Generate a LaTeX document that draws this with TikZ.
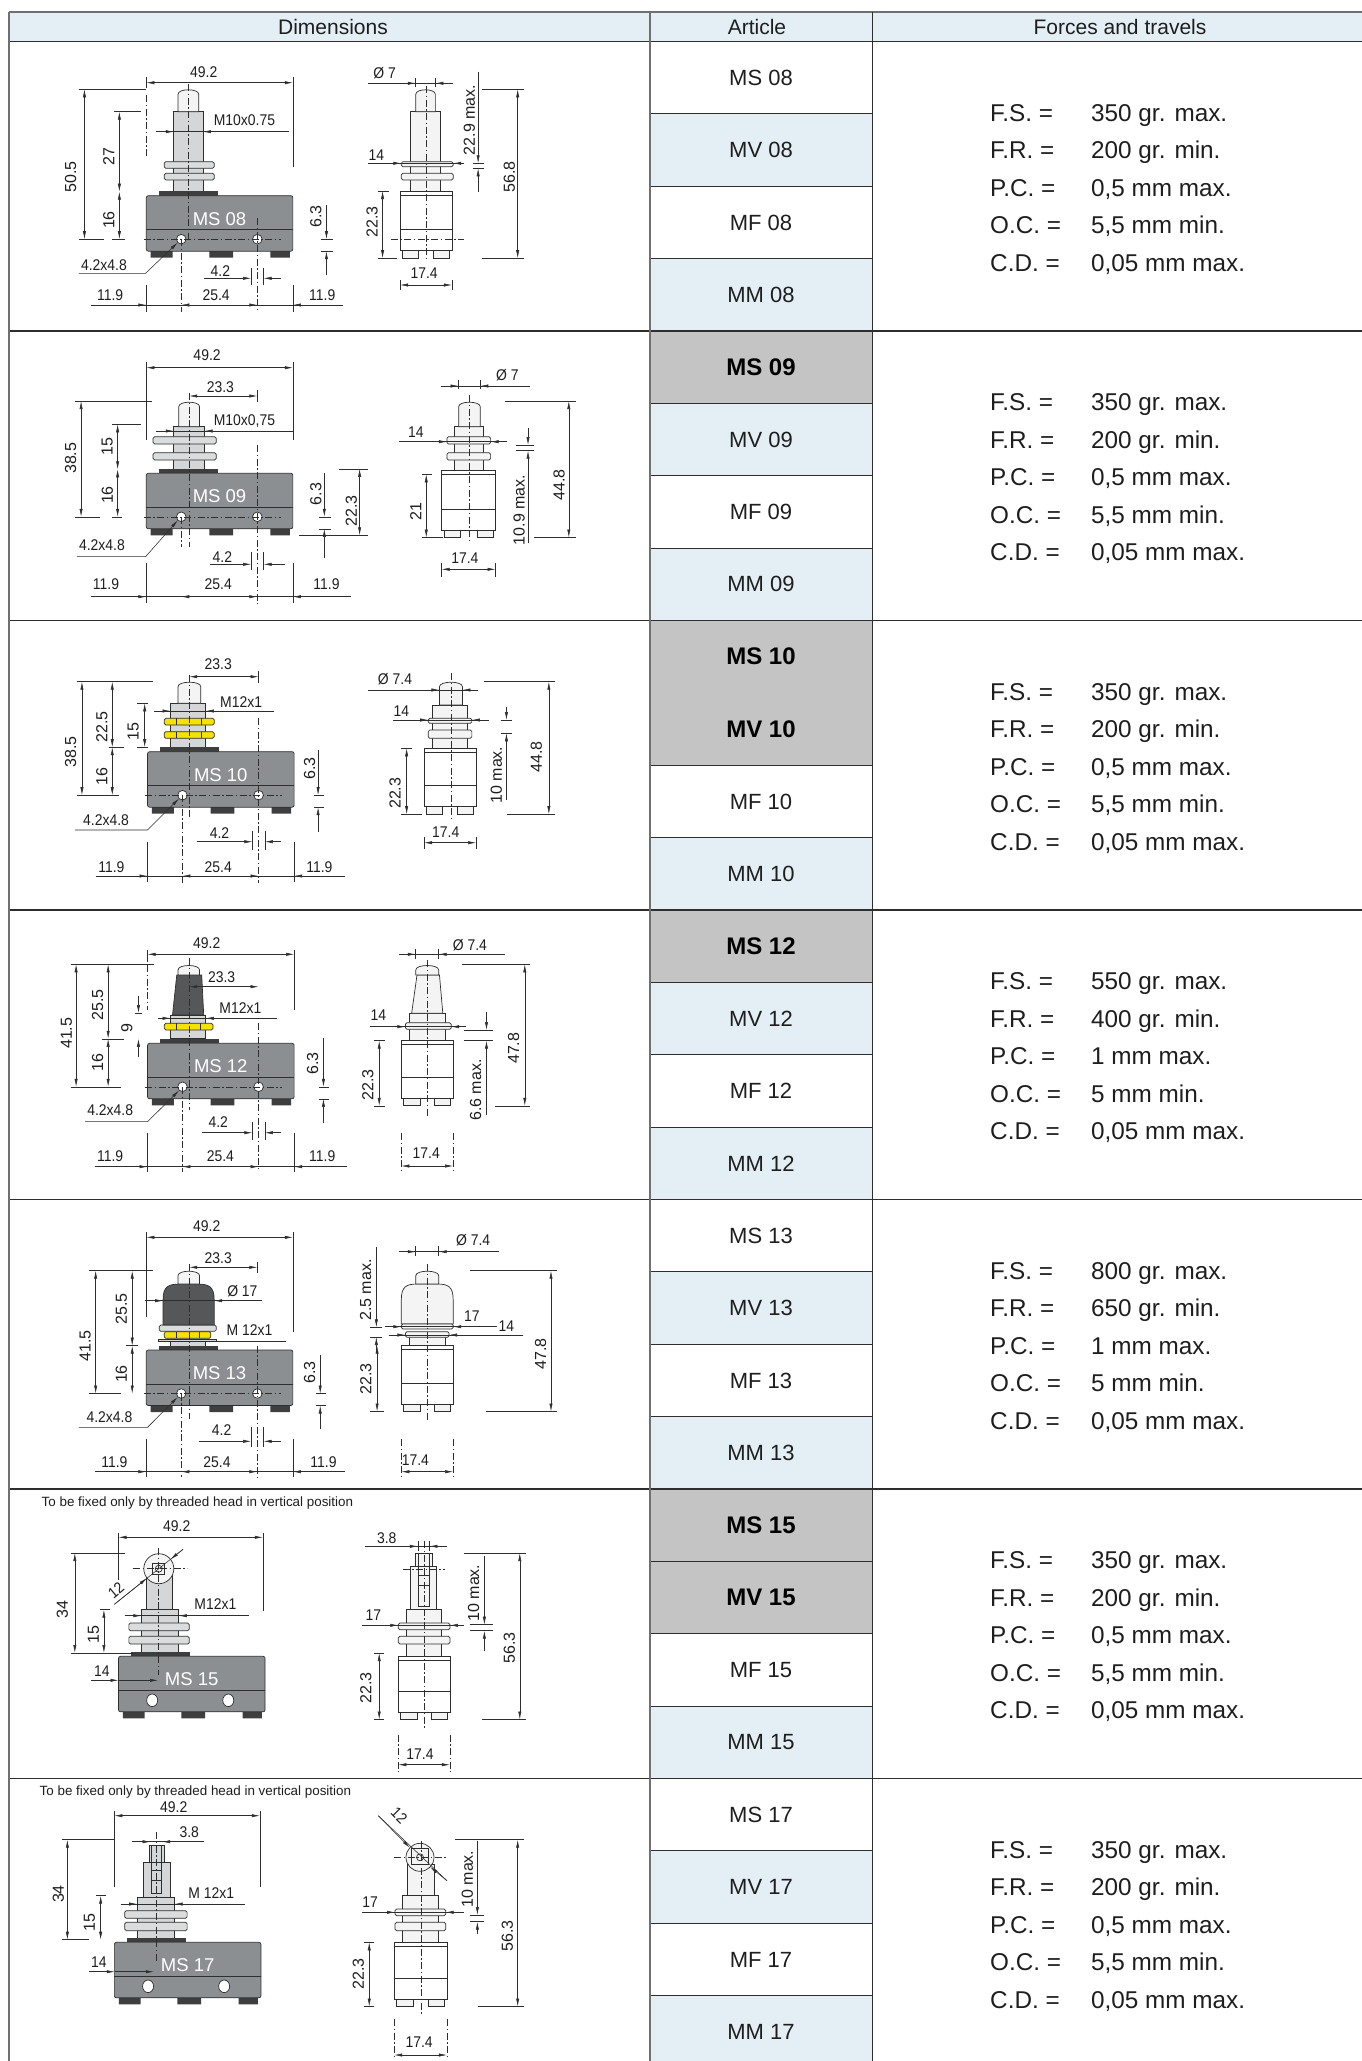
\documentclass[tikz,border=0pt]{standalone}
\usepackage{fontspec}
\setmainfont{Liberation Sans}
\newfontfamily\dimfont[FakeStretch=0.9]{Liberation Sans}
\newfontfamily\dimfontr{Liberation Sans}
\usetikzlibrary{arrows.meta}
\definecolor{hdrblue}{HTML}{E3EEF5}
\definecolor{cellgray}{HTML}{C4C4C4}
\definecolor{bodygray}{HTML}{8C8F92}
\definecolor{darkpart}{HTML}{3E3E3E}
\definecolor{stemgray}{HTML}{D4D6D8}
\definecolor{nutgray}{HTML}{DADCDE}
\definecolor{partlight}{HTML}{F4F4F4}
\definecolor{bootdark}{HTML}{555759}
\definecolor{nutyellow}{HTML}{F5E200}
\definecolor{linedark}{HTML}{2E2E2E}
\definecolor{txtdark}{HTML}{1E1E1E}
\definecolor{bordergray}{HTML}{707070}
\tikzset{
 rowline/.style={draw=linedark, line width=1.2pt},
 colline/.style={draw=bordergray, line width=1.1pt},
 subline/.style={draw=linedark, line width=0.9pt},
 dimline/.style={draw=linedark, line width=0.55pt},
 dimarrow/.style={dimline, -{Latex[length=8pt,width=3.2pt]}},
 dimboth/.style={dimline, {Latex[length=8pt,width=3.2pt]}-{Latex[length=8pt,width=3.2pt]}},
 cline/.style={draw=linedark, line width=0.5pt, dash pattern=on 7pt off 2.5pt on 1.5pt off 2.5pt},
 outl/.style={draw=linedark, line width=0.7pt},
 dimlbl/.style={font=\dimfont\fontsize{15.5}{15.5}\selectfont, text=txtdark, inner sep=0pt},
 dimlblr/.style={font=\dimfontr\fontsize{16}{16}\selectfont, text=txtdark, inner sep=0pt, rotate=90},
 bodylbl/.style={font=\fontsize{18.5}{18.5}\selectfont, text=white, inner sep=0pt},
 hdr/.style={font=\fontsize{21}{21}\selectfont, text=txtdark, inner sep=0pt},
 arttxt/.style={font=\fontsize{22}{22}\selectfont, text=txtdark, inner sep=0pt},
 artbold/.style={font=\bfseries\fontsize{24}{24}\selectfont, text=black, inner sep=0pt},
 ftxt/.style={font=\fontsize{24.3}{24.3}\selectfont, text=txtdark, inner sep=0pt, anchor=base west},
 note/.style={font=\fontsize{13.4}{13.4}\selectfont, text=txtdark, inner sep=0pt, anchor=base west}
}
\newcounter{nn}
\newcommand{\lab}[3]{\stepcounter{nn}\node[dimlbl] (d\arabic{nn}) at (#1,#2) {#3};}
\newcommand{\labr}[3]{\stepcounter{nn}\node[dimlblr] (d\arabic{nn}) at (#1,#2) {#3};}
\newcommand{\hd}[3]{\draw[dimboth] (#1,#3) -- (#2,#3);}
\newcommand{\vd}[3]{\draw[dimboth] (#1,#2) -- (#1,#3);}
\newcommand{\arw}[4]{\draw[dimarrow] (#1,#2) -- (#3,#4);}
\newcommand{\sg}[4]{\draw[dimline] (#1,#2) -- (#3,#4);}
\newcommand{\ctr}[3]{\draw[cline] (#1,#2) -- (#1,#3);}
\newcommand{\inh}[5]{\draw[dimline] (#1,#3) -- (#2,#3);
 \draw[dimarrow] (#4-9,#3) -- (#4,#3);
 \draw[dimarrow] (#5+9,#3) -- (#5,#3);}
\newcommand{\nut}[5]{\draw[outl, fill=#5, rounded corners=1.5pt] (#1,#2) rectangle (#3,#4);}
\newcommand{\ynut}[4]{\draw[outl, fill=nutyellow, rounded corners=1.5pt] (#1,#2) rectangle (#3,#4);
 \draw[outl] ({#1+(#3-#1)*0.25},#2) -- ({#1+(#3-#1)*0.25},#4) ({#1+(#3-#1)*0.75},#2) -- ({#1+(#3-#1)*0.75},#4);}
\newcommand{\plunger}[5]{\draw[outl, fill=#5] (#1,#4) -- (#1,#3+5) .. controls (#1,#3-1) and (#2,#3-1) .. (#2,#3+5) -- (#2,#4) -- cycle;}
\newcommand{\fbody}[5]{%
 \begin{scope}[shift={(#1,#2)}]
  \fill[darkpart] (3.5,55.5) rectangle (21,62) (50.5,55.5) rectangle (69.5,62) (99.5,55.5) rectangle (115,62);
  \fill[darkpart] (10,-4.5) rectangle (57.5,0);
  \draw[outl, fill=bodygray, rounded corners=2pt] (0,0) rectangle (117.5,55.5);
  \draw[outl] (0,34) -- (117.5,34);
  \ifnum#5=1
   \draw[outl, fill=white] (28,43.5) circle[radius=4.8pt] (89,43.5) circle[radius=4.8pt];
   \draw[cline] (-2,43.5) -- (108,43.5);
  \else
   \draw[outl, fill=white] (27,44) ellipse[x radius=5.5pt, y radius=6.3pt] (88,44) ellipse[x radius=5.5pt, y radius=6.3pt];
  \fi
  \node[bodylbl] (#4) at (58.7,23) {#3};
 \end{scope}}
\newcommand{\sbody}[4]{%
 \draw[outl, fill=partlight] (#1+2,#3) rectangle (#1+15,#3+7.5) (#1+#4-15,#3) rectangle (#1+#4-2,#3+7.5);
 \draw[outl, fill=white] (#1,#2) rectangle (#1+#4,#3);
 \draw[outl] (#1,#2+4) -- (#1+#4,#2+4) (#1,#3-21) -- (#1+#4,#3-21);}
\newcommand{\acell}[6]{\fill[#3] (650,#1+72.4*#2) rectangle (872.5,#1+72.4*#2+72.4);
 \node[#6] (#5) at (761,#1+72.4*#2+36.2) {#4};}
\newcommand{\frc}[7]{%
 \node[ftxt] (#2a) at (990,#1+79.5) {F.S. =}; \node[ftxt] (#2b) at (1091,#1+79.5) {#3};
 \node[ftxt] (#2c) at (990,#1+117) {F.R. =}; \node[ftxt] (#2d) at (1091,#1+117) {#4};
 \node[ftxt] (#2e) at (990,#1+154.5) {P.C. =}; \node[ftxt] (#2f) at (1091,#1+154.5) {#5};
 \node[ftxt] (#2g) at (990,#1+192) {O.C. =}; \node[ftxt] (#2h) at (1091,#1+192) {#6};
 \node[ftxt] (#2i) at (990,#1+229.5) {C.D. =}; \node[ftxt] (#2j) at (1091,#1+229.5) {#7};}
\begin{document}
\begin{tikzpicture}[x=1pt,y=-1pt]
\useasboundingbox (0,0) rectangle (1362,2061);
\clip (0,0) rectangle (1362,2061);
\fill[white] (0,0) rectangle (1362,2061);
% ---------- table ----------
\fill[hdrblue] (9,12) rectangle (1362,41.5);
\acell{41.5}{0}{white}{MS 08}{a11}{arttxt}
\acell{41.5}{1}{hdrblue}{MV 08}{a12}{arttxt}
\acell{41.5}{2}{white}{MF 08}{a13}{arttxt}
\acell{41.5}{3}{hdrblue}{MM 08}{a14}{arttxt}
\acell{331}{0}{cellgray}{MS 09}{a21}{artbold}
\acell{331}{1}{hdrblue}{MV 09}{a22}{arttxt}
\acell{331}{2}{white}{MF 09}{a23}{arttxt}
\acell{331}{3}{hdrblue}{MM 09}{a24}{arttxt}
\acell{620.5}{0}{cellgray}{MS 10}{a31}{artbold}
\acell{620.5}{1}{cellgray}{MV 10}{a32}{artbold}
\acell{620.5}{2}{white}{MF 10}{a33}{arttxt}
\acell{620.5}{3}{hdrblue}{MM 10}{a34}{arttxt}
\acell{910}{0}{cellgray}{MS 12}{a41}{artbold}
\acell{910}{1}{hdrblue}{MV 12}{a42}{arttxt}
\acell{910}{2}{white}{MF 12}{a43}{arttxt}
\acell{910}{3}{hdrblue}{MM 12}{a44}{arttxt}
\acell{1199.5}{0}{white}{MS 13}{a51}{arttxt}
\acell{1199.5}{1}{hdrblue}{MV 13}{a52}{arttxt}
\acell{1199.5}{2}{white}{MF 13}{a53}{arttxt}
\acell{1199.5}{3}{hdrblue}{MM 13}{a54}{arttxt}
\acell{1489}{0}{cellgray}{MS 15}{a61}{artbold}
\acell{1489}{1}{cellgray}{MV 15}{a62}{artbold}
\acell{1489}{2}{white}{MF 15}{a63}{arttxt}
\acell{1489}{3}{hdrblue}{MM 15}{a64}{arttxt}
\acell{1778.5}{0}{white}{MS 17}{a71}{arttxt}
\acell{1778.5}{1}{hdrblue}{MV 17}{a72}{arttxt}
\acell{1778.5}{2}{white}{MF 17}{a73}{arttxt}
\acell{1778.5}{3}{hdrblue}{MM 17}{a74}{arttxt}
\foreach \r in {41.5,331,910,1199.5,1489,1778.5}{
 \draw[subline] (650,\r+72.4) -- (872.5,\r+72.4);}
\foreach \r in {41.5,331,620.5,910,1199.5,1489,1778.5}{
 \draw[subline] (650,\r+144.8) -- (872.5,\r+144.8);
 \draw[subline] (650,\r+217.2) -- (872.5,\r+217.2);}
\draw[draw=bordergray, line width=1.4pt] (9,12) -- (1362,12);
\foreach \r in {41.5,331,620.5,910,1199.5,1489,1778.5}{
 \draw[rowline] (9,\r) -- (1362,\r);}
\draw[colline] (9,12) -- (9,2061);
\draw[colline] (650,12) -- (650,2061);
\draw[rowline] (872.5,12) -- (872.5,2061);
\node[hdr] (hDim) at (333,27) {Dimensions};
\node[hdr] (hArt) at (757,27) {Article};
\node[hdr] (hFor) at (1120,27) {Forces and travels};
\frc{41.5}{fa}{350 gr. max.}{200 gr. min.}{0,5 mm max.}{5,5 mm min.}{0,05 mm max.}
\frc{331}{fb}{350 gr. max.}{200 gr. min.}{0,5 mm max.}{5,5 mm min.}{0,05 mm max.}
\frc{620.5}{fc}{350 gr. max.}{200 gr. min.}{0,5 mm max.}{5,5 mm min.}{0,05 mm max.}
\frc{910}{fd}{550 gr. max.}{400 gr. min.}{1 mm max.}{5 mm min.}{0,05 mm max.}
\frc{1199.5}{fe}{800 gr. max.}{650 gr. min.}{1 mm max.}{5 mm min.}{0,05 mm max.}
\frc{1489}{ff}{350 gr. max.}{200 gr. min.}{0,5 mm max.}{5,5 mm min.}{0,05 mm max.}
\frc{1778.5}{fg}{350 gr. max.}{200 gr. min.}{0,5 mm max.}{5,5 mm min.}{0,05 mm max.}
% ---------- drawings ----------
\begin{scope}[x={(1.2474pt,0pt)},y={(0pt,-1pt)}]
% ===== ROW 1 front =====
\draw[outl, fill=stemgray] (139.3,111.7) rectangle (162.7,191.2);
\plunger{142.7}{159.3}{89.3}{111.7}{partlight}
\nut{131.7}{161.7}{171.7}{168.3}{nutgray}
\nut{131.7}{173.3}{171.7}{180}{nutgray}
\fbody{117.3}{195.7}{MS 08}{b1}{1}
\ctr{151}{84}{240}
\draw[cline] (145.3,239)--(145.3,311.7) (206.3,218)--(206.3,311.7);
\hd{117.3}{234.8}{82.7} \lab{163.3}{71.7}{49.2}
\sg{117.3}{77}{117.3}{88} \draw[cline] (117.3,95)--(117.3,157);
\sg{234.8}{77}{234.8}{167}
\vd{67.7}{89.3}{239.2} \labr{56.7}{176.7}{50.5}
\sg{63.3}{89.3}{116.7}{89.3} \sg{63.3}{239.2}{83.3}{239.2}
\vd{95.7}{111.7}{191.7} \labr{87.3}{156.7}{27}
\vd{95.7}{191.7}{239.2} \labr{87.3}{220}{16}
\sg{91.7}{111.7}{113.3}{111.7} \sg{90}{239.2}{100}{239.2}
\inh{125}{231.7}{131.7}{139.3}{162.7} \lab{196}{120}{M10x0.75}
\arw{261.7}{205}{261.7}{239.2} \arw{261.7}{275}{261.7}{251.2}
\sg{257}{239.2}{267}{239.2} \sg{257}{251.2}{267}{251.2} \labr{253.3}{216.7}{6.3}
\draw[dimarrow] (63.3,273.3)--(116.7,273.3)--(142.5,242.5); \lab{83.3}{265}{4.2x4.8}
\arw{163.3}{278.3}{201.3}{278.3} \arw{225}{278.3}{211.3}{278.3}
\sg{201.3}{268.3}{201.3}{285} \sg{211.3}{268.3}{211.3}{285} \lab{176.7}{270.7}{4.2}
\sg{73.3}{305}{275}{305}
\arw{107}{305}{117.3}{305} \arw{155.5}{305}{145.3}{305} \arw{196}{305}{206.3}{305} \arw{245}{305}{234.8}{305}
\lab{88.3}{295}{11.9} \lab{173.3}{295}{25.4} \lab{258.3}{295}{11.9}
\sg{117.3}{285}{117.3}{311.7} \sg{234.8}{285}{234.8}{311.7}
% ROW 1 side
\draw[outl, fill=partlight] (329.3,111.7) rectangle (352.7,191);
\plunger{333.3}{349}{89.3}{111.7}{partlight}
\nut{321.7}{161.7}{363.3}{166.7}{partlight}
\nut{321.7}{173.3}{363.3}{180}{partlight}
\sbody{320.7}{191}{250.7}{41.6}
\ctr{341.7}{86}{258}
\draw[cline] (313.3,239.2)--(371.7,239.2);
\inh{295}{363.3}{83.3}{333.3}{349} \sg{333.3}{78}{333.3}{87} \sg{349}{78}{349}{87} \lab{308.3}{73.3}{Ø 7}
\inh{295}{368.3}{163.3}{321.7}{363.3} \lab{301.7}{155}{14}
\arw{383.3}{71.7}{383.3}{163.3} \arw{383.3}{191.7}{383.3}{168.3}
\sg{379.3}{163.3}{388.3}{163.3} \sg{379.3}{168.3}{388.3}{168.3} \labr{376.2}{120}{22.9 max.}
\vd{415}{89.3}{258.2} \sg{386.7}{89.3}{420}{89.3} \sg{386.7}{258.2}{420}{258.2} \labr{408.3}{176.7}{56.8}
\vd{306.7}{191}{258.2} \sg{302.7}{191}{311.7}{191} \sg{302.7}{258.2}{318}{258.2} \labr{298.3}{221.7}{22.3}
\hd{320.7}{362.3}{285} \sg{320.7}{280}{320.7}{290} \sg{362.3}{280}{362.3}{290} \lab{340}{273.3}{17.4}
% ===== ROW 2 front =====
\draw[outl, fill=stemgray] (139.3,426.7) rectangle (164,469);
\plunger{143.3}{160}{401.7}{426.7}{partlight}
\nut{122.7}{436.7}{173.3}{444}{nutgray}
\nut{122.7}{452.7}{173.3}{460}{nutgray}
\fbody{117.3}{473.3}{MS 09}{b2}{1}
\ctr{151.7}{393}{546.7}
\draw[cline] (145.3,517)--(145.3,546.7) (206.3,445)--(206.3,603.3);
\hd{117.3}{234.8}{367.7} \lab{166}{355}{49.2}
\sg{117.3}{361.7}{117.3}{440} \sg{234.8}{361.7}{234.8}{440}
\hd{151.7}{206.3}{396} \sg{206.3}{390}{206.3}{402} \lab{176.7}{386.7}{23.3}
\inh{125}{235}{431}{139.3}{164} \lab{196}{420.7}{M10x0,75}
\vd{65}{401}{516.8} \labr{56.7}{458.3}{38.5} \sg{60}{401}{121.7}{401} \sg{60}{516.8}{80}{516.8}
\vd{94.3}{424.3}{469.3} \labr{86}{446.7}{15} \sg{90}{424.3}{113.3}{424.3}
\vd{94.3}{469.3}{516.8} \labr{86}{495}{16} \sg{90}{516.8}{98}{516.8}
\arw{260}{473.3}{260}{516.8} \arw{260}{558.3}{260}{528.8}
\sg{256}{516.8}{265}{516.8} \sg{256}{528.8}{265}{528.8} \labr{253.3}{494}{6.3}
\vd{288.3}{468.8}{535.3} \sg{271.7}{468.8}{295}{468.8} \sg{240}{535.3}{295}{535.3} \labr{281.7}{511}{22.3}
\draw[dimarrow] (61.7,556.7)--(116.7,556.7)--(142.5,520.3); \lab{81.7}{545}{4.2x4.8}
\arw{168.3}{564.3}{201.3}{564.3} \arw{228.3}{564.3}{211.3}{564.3}
\sg{201.3}{552}{201.3}{570} \sg{211.3}{552}{211.3}{570} \lab{178.3}{556.7}{4.2}
\sg{73.3}{596.7}{281.7}{596.7}
\arw{107}{596.7}{117.3}{596.7} \arw{155.5}{596.7}{145.3}{596.7} \arw{196}{596.7}{206.3}{596.7} \arw{245}{596.7}{234.8}{596.7}
\lab{85}{584}{11.9} \lab{175}{584}{25.4} \lab{261.7}{584}{11.9}
\sg{117.3}{563.3}{117.3}{603.3} \sg{234.8}{563.3}{234.8}{603.3}
% ROW 2 side
\draw[outl, fill=partlight] (364.3,426.7) rectangle (387.7,470);
\plunger{367.7}{385}{401.7}{426.7}{partlight}
\nut{358.3}{436.7}{393.3}{444}{partlight}
\nut{358.3}{452.7}{393.3}{460}{partlight}
\sbody{354}{470}{530}{43.3}
\ctr{376}{395}{543.3}
\inh{353.3}{425}{386}{367.7}{385} \sg{367.7}{380}{367.7}{389} \sg{385}{380}{385}{389} \lab{406.7}{375}{Ø 7}
\inh{320}{406.7}{441.7}{358.3}{393.3} \lab{333.3}{431.7}{14}
\arw{423.3}{428.3}{423.3}{445} \arw{423.3}{543.3}{423.3}{450.7}
\sg{413.3}{445}{428.3}{445} \sg{413.3}{450.7}{428.3}{450.7} \labr{416.2}{510}{10.9 max.}
\vd{456}{401}{537.5} \sg{405}{401}{461.7}{401} \sg{428.3}{537.5}{461.7}{537.5} \labr{448.3}{485}{44.8}
\vd{341.7}{474.3}{537.5} \sg{338.3}{474.3}{346.7}{474.3} \sg{338.3}{537.5}{355}{537.5} \labr{333.3}{511.7}{21}
\hd{354}{397.3}{569.3} \sg{354}{563.3}{354}{576.7} \sg{397.3}{563.3}{397.3}{576.7} \lab{372.7}{558.3}{17.4}
% ===== ROW 3 front =====
\draw[outl, fill=stemgray] (136.7,703.3) rectangle (165,747.2);
\plunger{142.7}{161}{681.7}{703.3}{partlight}
\ynut{131.7}{718.3}{171.7}{725}
\ynut{131.7}{731.7}{171.7}{738.3}
\fbody{118.3}{751.7}{MS 10}{b3}{1}
\ctr{151.7}{675}{818.3}
\draw[cline] (146.3,795)--(146.3,883.3) (207.3,718.3)--(207.3,883.3);
\hd{151.7}{207.3}{676.7} \sg{207.3}{671}{207.3}{683} \lab{175}{664}{23.3}
\inh{123.3}{220}{711}{136.7}{165} \lab{193.3}{701.7}{M12x1}
\vd{65.7}{681.7}{795.2} \sg{61.7}{681.7}{122.7}{681.7} \sg{61.7}{795.2}{95}{795.2} \labr{56.7}{751.7}{38.5}
\vd{90}{681.7}{747.2} \labr{81.7}{726.7}{22.5}
\vd{90}{747.2}{795.2} \labr{81.7}{776.7}{16} \sg{87}{747.2}{99.3}{747.2}
\vd{116}{703.3}{747.2} \sg{110}{703.3}{118.3}{703.3} \sg{110}{747.2}{118.3}{747.2} \labr{106.7}{731.7}{15}
\arw{255}{750}{255}{795.2} \arw{255}{831.7}{255}{807.2}
\sg{252}{795.2}{260}{795.2} \sg{252}{807.2}{260}{807.2} \labr{248.3}{768.3}{6.3}
\draw[dimarrow] (60,830)--(118.3,830)--(143.5,798.5); \lab{85}{820}{4.2x4.8}
\arw{158.3}{841.7}{202.3}{841.7} \arw{225}{841.7}{212.3}{841.7}
\sg{202.3}{830.7}{202.3}{850} \sg{212.3}{830.7}{212.3}{850} \lab{176}{832.7}{4.2}
\sg{76.7}{876}{276.7}{876}
\arw{108}{876}{118.3}{876} \arw{156.5}{876}{146.3}{876} \arw{197}{876}{207.3}{876} \arw{246}{876}{235.8}{876}
\lab{89.3}{866.7}{11.9} \lab{175}{866.7}{25.4} \lab{256}{866.7}{11.9}
\sg{118.3}{841.7}{118.3}{881.7} \sg{235.8}{841.7}{235.8}{881.7}
% ROW 3 side
\draw[outl, fill=partlight] (346.7,705) rectangle (375,748.3);
\plunger{352.3}{370.7}{681.7}{705}{partlight}
\nut{343.3}{718.3}{378.3}{723.3}{partlight}
\nut{343.3}{730}{378.3}{738.3}{partlight}
\sbody{340}{748.3}{806.7}{41.7}
\ctr{361.7}{673.3}{820}
\inh{295}{383.3}{690}{352.3}{370.7} \lab{316.7}{679.3}{Ø 7.4}
\inh{315}{391.7}{720}{343.3}{378.3} \lab{321.7}{710.7}{14}
\arw{406}{706.7}{406}{720} \arw{406}{800}{406}{733.3}
\sg{401.7}{720}{410.7}{720} \sg{401.7}{733.3}{410.7}{733.3} \labr{398}{775}{10 max.}
\vd{440}{681.7}{814.2} \sg{388.3}{681.7}{445}{681.7} \sg{406.7}{814.2}{445}{814.2} \labr{430}{756.7}{44.8}
\vd{326}{748.3}{814.2} \sg{321.7}{748.3}{330}{748.3} \sg{321.7}{814.2}{338.3}{814.2} \labr{316.7}{793.3}{22.3}
\hd{340}{381.7}{842.7} \sg{340}{837}{340}{849} \sg{381.7}{837}{381.7}{849} \lab{357.3}{831.7}{17.4}
% ===== ROW 4 front =====
\draw[outl, fill=stemgray] (136.7,1015) rectangle (165,1038.8);
\draw[outl, fill=bootdark] (138.3,1015) -- (141.7,975) -- (161.7,975) -- (163.3,1015) -- cycle;
\plunger{142.7}{160}{965}{975}{partlight}
\ynut{131.7}{1023.3}{170.7}{1030}
\fbody{118.3}{1043.3}{MS 12}{b4}{1}
\ctr{151.7}{958.3}{1110}
\draw[cline] (146.3,1087)--(146.3,1171.7) (207.3,1023.3)--(207.3,1171.7);
\hd{118.3}{235.8}{954.3} \lab{165.7}{943.3}{49.2}
\sg{118.3}{950}{118.3}{962} \draw[cline] (118.3,965)--(118.3,1010); \sg{235.8}{950}{235.8}{1010}
\hd{151.7}{207.3}{986.7} \lab{177.7}{976.7}{23.3}
\inh{126.7}{221.7}{1018.3}{136.7}{165} \lab{192.7}{1008.3}{M12x1}
\vd{61}{964.3}{1086.8} \sg{56.7}{964.3}{123.3}{964.3} \sg{56.7}{1086.8}{96.7}{1086.8} \labr{53.3}{1033.3}{41.5}
\vd{86.7}{964.3}{1038.8} \labr{78.3}{1005}{25.5}
\vd{86.7}{1038.8}{1086.8} \labr{78.3}{1062.7}{16} \sg{81.7}{1038.8}{99.3}{1038.8}
\arw{111}{996}{111}{1013} \arw{111}{1056.7}{111}{1038.8} \sg{108}{1013}{114}{1013} \labr{101.7}{1028.3}{9}
\arw{259.3}{1038.3}{259.3}{1086.8} \arw{259.3}{1123.3}{259.3}{1098.8}
\sg{256}{1086.8}{264}{1086.8} \sg{256}{1098.8}{264}{1098.8} \labr{250.7}{1063.3}{6.3}
\draw[dimarrow] (68.3,1121.7)--(118.3,1121.7)--(143.5,1090.5); \lab{88.3}{1110}{4.2x4.8}
\arw{161.7}{1132.7}{202.3}{1132.7} \arw{225}{1132.7}{212.3}{1132.7}
\sg{202.3}{1121.7}{202.3}{1140} \sg{212.3}{1121.7}{212.3}{1140} \lab{175}{1121.7}{4.2}
\sg{76}{1166.7}{278.3}{1166.7}
\arw{108}{1166.7}{118.3}{1166.7} \arw{156.5}{1166.7}{146.3}{1166.7} \arw{197}{1166.7}{207.3}{1166.7} \arw{246}{1166.7}{235.8}{1166.7}
\lab{88.3}{1156}{11.9} \lab{176.7}{1156}{25.4} \lab{258.3}{1156}{11.9}
\sg{118.3}{1133.3}{118.3}{1171.7} \sg{235.8}{1133.3}{235.8}{1171.7}
% ROW 4 side
\draw[outl, fill=partlight] (328.3,1013.3) rectangle (356.7,1040.7);
\draw[outl, fill=partlight] (330,1013.3) -- (334.3,975) -- (352.3,975) -- (355,1013.3) -- cycle;
\plunger{333.3}{351.7}{965}{975}{partlight}
\nut{325}{1022.7}{361.7}{1029.3}{partlight}
\sbody{321.7}{1040.7}{1098.3}{41.6}
\ctr{342.7}{960}{1116.7}
\inh{320}{405}{954.3}{333.3}{351.7} \sg{333.3}{949}{333.3}{959} \sg{351.7}{949}{351.7}{959} \lab{376.7}{945}{Ø 7.4}
\inh{296.7}{373.3}{1026.7}{325}{361.7} \lab{303.3}{1015}{14}
\arw{390}{1011.7}{390}{1030} \arw{390}{1115}{390}{1040.7}
\sg{371.7}{1030}{395}{1030} \sg{371.7}{1040.7}{395}{1040.7} \labr{381.2}{1090}{6.6 max.}
\vd{420.7}{964.3}{1105.8} \sg{370}{964.3}{425}{964.3} \sg{396.7}{1105.8}{425}{1105.8} \labr{411.7}{1048.3}{47.8}
\vd{304}{1040.7}{1105.8} \sg{300}{1040.7}{308.3}{1040.7} \sg{300}{1105.8}{308.3}{1105.8} \labr{295}{1085}{22.3}
\hd{321.7}{363.3}{1166} \draw[cline] (321.7,1133.3)--(321.7,1171.7) (363.3,1133.3)--(363.3,1171.7); \lab{341.7}{1152.7}{17.4}
% ===== ROW 5 front =====
\draw[outl, fill=stemgray] (136.7,1339) rectangle (165,1346);
\draw[outl, fill=stemgray] (126.7,1339) rectangle (173.3,1341.5);
\ynut{131.7}{1331.7}{169}{1338.3}
\nut{127.7}{1325}{173.3}{1331.3}{nutgray}
\draw[outl, fill=bootdark] (130.7,1325) -- (130.7,1300) .. controls (130.7,1286) and (135,1284) .. (145,1284) -- (157.3,1284) .. controls (167.3,1284) and (171.7,1286) .. (171.7,1300) -- (171.7,1325) -- cycle;
\plunger{142.7}{160}{1270.7}{1284}{partlight}
\fbody{117.3}{1350}{MS 13}{b5}{1}
\ctr{151.7}{1264}{1419}
\draw[cline] (145.3,1393.5)--(145.3,1477.3) (206.3,1345.7)--(206.3,1477.3);
\hd{117.3}{234.8}{1237.3} \lab{165.7}{1225.7}{49.2}
\sg{117.3}{1232.3}{117.3}{1317.3} \sg{234.8}{1232.3}{234.8}{1332.3}
\hd{151.7}{206.3}{1267.3} \sg{206.3}{1262}{206.3}{1273} \lab{175}{1258.3}{23.3}
\inh{116}{210}{1300.7}{130.7}{171.7} \lab{194.3}{1290.7}{Ø 17}
\sg{126.7}{1341.7}{229.3}{1341.7} \lab{200}{1330}{M 12x1}
\vd{76.7}{1270.7}{1393.5} \sg{71.7}{1270.7}{122.7}{1270.7} \sg{71.7}{1393.5}{96.7}{1393.5} \labr{68.3}{1345.7}{41.5}
\vd{106}{1270.7}{1345.7} \labr{97.3}{1309}{25.5}
\vd{106}{1345.7}{1393.5} \labr{97.3}{1374}{16} \sg{101}{1345.7}{111}{1345.7}
\arw{256.7}{1355}{256.7}{1393.5} \arw{256.7}{1429}{256.7}{1405.5}
\sg{253}{1393.5}{261}{1393.5} \sg{253}{1405.5}{261}{1405.5} \labr{248.3}{1372.3}{6.3}
\draw[dimarrow] (63.3,1427.3)--(118.3,1427.3)--(142.5,1397); \lab{87.7}{1417.3}{4.2x4.8}
\arw{159.3}{1441.3}{201.3}{1441.3} \arw{225}{1441.3}{211.3}{1441.3}
\sg{201.3}{1427.3}{201.3}{1447.3} \sg{211.3}{1427.3}{211.3}{1447.3} \lab{177.7}{1429.7}{4.2}
\sg{76}{1471.7}{276.7}{1471.7}
\arw{107}{1471.7}{117.3}{1471.7} \arw{155.5}{1471.7}{145.3}{1471.7} \arw{196}{1471.7}{206.3}{1471.7} \arw{245}{1471.7}{234.8}{1471.7}
\lab{91.7}{1461.7}{11.9} \lab{174}{1461.7}{25.4} \lab{259.3}{1461.7}{11.9}
\sg{117.3}{1439}{117.3}{1477.3} \sg{234.8}{1439}{234.8}{1477.3}
% ROW 5 side
\draw[outl, fill=partlight] (328.3,1335.7) rectangle (356.7,1345.7);
\nut{325}{1331.7}{360}{1337.3}{partlight}
\draw[outl, fill=partlight] (321.7,1324) -- (321.7,1300) .. controls (321.7,1286) and (326,1284) .. (335,1284) -- (350,1284) .. controls (359,1284) and (363.3,1286) .. (363.3,1300) -- (363.3,1324) -- cycle;
\nut{321.7}{1324}{363.3}{1329}{partlight}
\plunger{333.3}{351.7}{1270.7}{1284}{partlight}
\sbody{321.7}{1345.7}{1404}{41.6}
\ctr{342.7}{1264}{1420.7}
\inh{320}{400}{1251.7}{333.3}{351.7} \sg{333.3}{1246}{333.3}{1256} \sg{351.7}{1246}{351.7}{1256} \lab{379.3}{1239.7}{Ø 7.4}
\arw{301.7}{1247.3}{301.7}{1327.3} \arw{301.7}{1352}{301.7}{1337}
\sg{297}{1327.3}{306}{1327.3} \sg{297}{1337}{306}{1337} \labr{293}{1290}{2.5 max.}
\inh{308.3}{398.3}{1326.7}{321.7}{363.3} \lab{378.3}{1315.7}{17}
\inh{311.7}{419.3}{1335}{325}{360} \lab{406}{1326.3}{14}
\vd{441.7}{1270.7}{1411.5} \sg{376.7}{1270.7}{446.7}{1270.7} \sg{390}{1411.5}{446.7}{1411.5} \labr{433.3}{1354}{47.8}
\vd{302.3}{1345.7}{1411.5} \sg{297}{1411.5}{308}{1411.5} \labr{293.3}{1379}{22.3}
\hd{321.7}{363.3}{1471.7} \draw[cline] (321.7,1439)--(321.7,1477.3) (363.3,1439)--(363.3,1477.3); \lab{333}{1459.7}{17.4}
% ===== ROW 6 =====
\node[note] (note6) at (33.3,1506.5) {To be fixed only by threaded head in vertical position};
\draw[outl, fill=stemgray] (117.3,1566.3) rectangle (138.3,1609.7);
\draw[outl, fill=stemgray] (113.3,1609.7) rectangle (143.3,1652.3);
\nut{103.3}{1623}{151.7}{1630.7}{nutgray}
\nut{103.3}{1636.3}{151.7}{1644}{nutgray}
\draw[outl, fill=partlight] (127.3,1568.7) circle[radius=15pt];
\draw[outl] (122.5,1563) rectangle (132,1574.5);
\draw[outl] (127.3,1568.7) circle[radius=3.5pt];
\fbody{95}{1656.3}{MS 15}{b6}{0}
\ctr{126.7}{1548}{1674.7}
\draw[cline] (106.7,1568.7)--(150,1568.7);
\sg{91.7}{1604.3}{146.7}{1549.3}
\arw{91.7}{1604.3}{117.9}{1578.1} \arw{146.7}{1549.3}{136.7}{1559.3}
\stepcounter{nn}\node[dimlbl, rotate=40] (d\arabic{nn}) at (93,1590) {12};
\arw{73.3}{1680.3}{95}{1680.3} \arw{95}{1680.3}{126.7}{1680.3} \lab{81.7}{1671.3}{14}
\hd{95}{210.7}{1537.3} \lab{141.7}{1526.3}{49.2}
\sg{95}{1533}{95}{1579.7} \sg{210.7}{1533}{210.7}{1611.3}
\inh{100}{200}{1615.7}{113.3}{143.3} \lab{172.7}{1604}{M12x1}
\vd{60}{1553}{1653} \sg{56.7}{1553}{100}{1553} \sg{56.7}{1653}{80}{1653} \labr{50}{1609.7}{34}
\vd{83.3}{1609.7}{1653} \sg{80}{1609.7}{88.3}{1609.7} \sg{80}{1653}{106.7}{1653} \labr{75}{1634.7}{15}
% ROW 6 side
\draw[outl, fill=partlight] (326,1609.7) rectangle (354,1656.3);
\nut{319.3}{1623}{360.7}{1629.7}{partlight}
\nut{319.3}{1636.3}{360.7}{1644}{partlight}
\draw[outl, fill=partlight] (329.3,1566.3) rectangle (350,1609.7);
\draw[outl, fill=partlight] (333.3,1553) rectangle (346.7,1566.3);
\draw[outl] (335.5,1553) rectangle (344.5,1606);
\draw[outl] (335.5,1575) -- (344.5,1575) (335.5,1585) -- (344.5,1585);
\sbody{319.3}{1656.3}{1712}{41.4}
\ctr{340}{1541.3}{1729.7}
\draw[cline] (323,1569.7)--(357,1569.7);
\inh{292.7}{358.3}{1546.3}{335}{344.3} \sg{335}{1541}{335}{1551} \sg{344.3}{1541}{344.3}{1551} \lab{310}{1538}{3.8}
\inh{290}{371.7}{1625.3}{319.3}{360.7} \lab{299.3}{1614.7}{17}
\arw{388.3}{1556.3}{388.3}{1624.7} \arw{388.3}{1651.3}{388.3}{1630.7}
\sg{376.7}{1624.7}{395}{1624.7} \sg{376.7}{1630.7}{395}{1630.7} \labr{379.7}{1593}{10 max.}
\vd{416.7}{1553}{1719.5} \sg{371.7}{1553}{421.7}{1553} \sg{386.7}{1719.5}{421.7}{1719.5} \labr{408.3}{1648}{56.3}
\vd{304}{1653}{1719.5} \sg{300}{1653}{308}{1653} \sg{300}{1719.5}{308}{1719.5} \labr{293.3}{1688}{22.3}
\hd{319.3}{360.7}{1764.7} \draw[cline] (319.3,1734.7)--(319.3,1771.3) (360.7,1734.7)--(360.7,1771.3); \lab{336.7}{1754}{17.4}
% ===== ROW 7 =====
\node[note] (note7) at (31.7,1795) {To be fixed only by threaded head in vertical position};
\draw[outl, fill=stemgray] (110,1897.3) rectangle (140,1939);
\nut{100}{1910.7}{150}{1918.3}{nutgray}
\nut{100}{1922.3}{150}{1930.7}{nutgray}
\draw[outl, fill=stemgray] (115,1862.3) rectangle (136.7,1897.3);
\draw[outl, fill=stemgray] (120,1845.7) rectangle (131.7,1862.3);
\draw[outl] (121,1845.7) rectangle (129.3,1893);
\draw[outl] (121,1870) -- (129.3,1870) (121,1880) -- (129.3,1880);
\fbody{91.7}{1942.3}{MS 17}{b7}{0}
\ctr{125}{1832.3}{1960.7}
\arw{71.7}{1971.7}{92}{1971.7} \arw{92}{1971.7}{123.3}{1971.7} \lab{79.3}{1962.3}{14}
\hd{91.7}{208.3}{1815.7} \lab{139.3}{1807.3}{49.2}
\sg{91.7}{1810.7}{91.7}{1887.3} \sg{208.3}{1810.7}{208.3}{1887.3}
\inh{106}{163.3}{1841.7}{120.7}{130} \lab{151.7}{1831.7}{3.8}
\inh{96.7}{196.7}{1904}{110}{140} \lab{169.3}{1893}{M 12x1}
\vd{54}{1839.7}{1939.7} \sg{50}{1839.7}{91.7}{1839.7} \sg{50}{1939.7}{71.7}{1939.7} \labr{46.7}{1894}{34}
\vd{80.7}{1895.7}{1939.7} \sg{77}{1895.7}{85}{1895.7} \labr{71.7}{1922.3}{15}
% ROW 7 side
\draw[outl, fill=partlight] (322.7,1895.7) rectangle (351.7,1942.3);
\nut{316.7}{1909}{357.3}{1915.7}{partlight}
\nut{316.7}{1922.3}{357.3}{1930.7}{partlight}
\draw[outl, fill=partlight] (326.7,1864) rectangle (348.3,1895.7);
\draw[outl, fill=partlight] (336.7,1857.3) circle[radius=14pt];
\draw[outl] (329.5,1848) rectangle (343,1864);
\draw[outl] (336.7,1857.3) circle[radius=3.5pt];
\sbody{316}{1942.3}{1999}{42.3}
\ctr{337.3}{1840.7}{2014}
\draw[cline] (316,1857.3)--(358.3,1857.3);
\sg{303.3}{1815.7}{358.3}{1880.7}
\arw{303.3}{1815.7}{328.5}{1847.7} \arw{358.3}{1880.7}{344.9}{1866.9}
\stepcounter{nn}\node[dimlbl, rotate=-45] (d\arabic{nn}) at (320,1815.5) {12};
\inh{290}{371.7}{1912.3}{316.7}{357.3} \lab{296.7}{1902.3}{17}
\arw{382.7}{1840.7}{382.7}{1915} \arw{382.7}{1934}{382.7}{1921.7}
\sg{376.7}{1915}{388.3}{1915} \sg{376.7}{1921.7}{388.3}{1921.7} \labr{374.7}{1879}{10 max.}
\vd{415}{1839.7}{2006.5} \sg{365}{1839.7}{420}{1839.7} \sg{383.3}{2006.5}{420}{2006.5} \labr{406.7}{1935.7}{56.3}
\vd{296}{1942.3}{2006.5} \sg{292}{1942.3}{300}{1942.3} \sg{292}{2006.5}{300}{2006.5} \labr{287.3}{1974}{22.3}
\hd{316}{358.3}{2055} \draw[cline] (316,2019)--(316,2058) (358.3,2019)--(358.3,2058); \lab{336}{2041.7}{17.4}
\end{scope}
\end{tikzpicture}
\end{document}
